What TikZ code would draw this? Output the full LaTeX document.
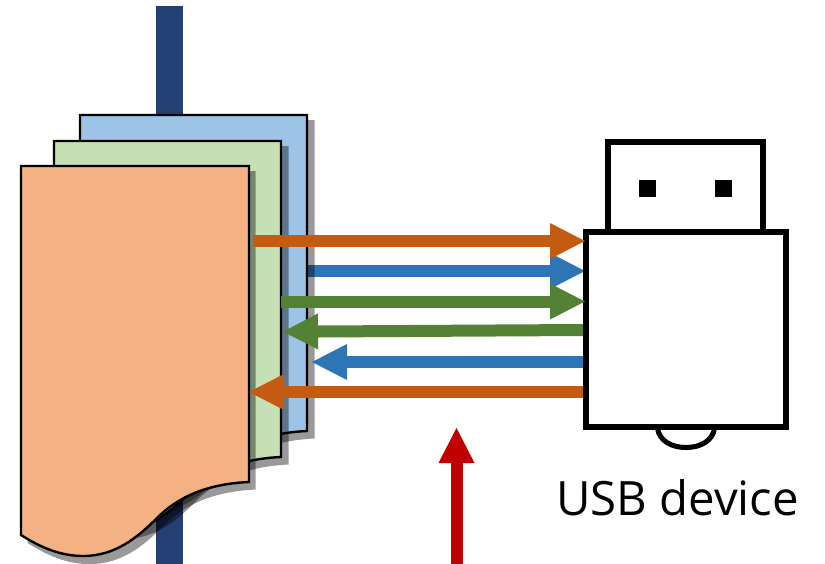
\documentclass[tikz,border=0pt]{standalone}
\usepackage{fontspec}
\setmainfont{Open Sans}
\usetikzlibrary{arrows.meta}
\definecolor{barc}{HTML}{243F71}
\definecolor{ora}{HTML}{C55A11}
\definecolor{blu}{HTML}{2E75B6}
\definecolor{gre}{HTML}{548235}
\definecolor{redc}{HTML}{C00000}
\definecolor{sheetb}{HTML}{9DC3E6}
\definecolor{sheetg}{HTML}{C5E0B4}
\definecolor{sheeto}{HTML}{F4B183}
\newcommand{\wavesheet}{(0,0) -- (228,0) -- (228,316) .. controls (184,318) and (156,332) .. (136,352) .. controls (116,372) and (94,390) .. (62,390) .. controls (39,390) and (19,381) .. (0,369) -- cycle}
\tikzset{
  x=0.75pt,y=-0.75pt,
  sheet/.style={draw=black,line width=1.8pt,line join=miter},
  shadow/.style={fill=black,fill opacity=.4,draw=none},
  flow/.style={line width=9pt,-{Triangle[length=26.25pt,width=27pt,line width=0pt,sep=0pt]}},
  usbline/.style={draw=black,fill=white,line width=4.3pt,line join=miter},
  usbbox/.style={usbline,rectangle,inner sep=0pt,outer sep=0pt,minimum width=150pt,minimum height=146.25pt},
  pin/.style={fill=black,draw=none,rectangle,inner sep=0pt,minimum width=12.75pt,minimum height=12.75pt},
}
\begin{document}
\begin{tikzpicture}
\useasboundingbox (0,0) rectangle (825,564);
% coordinates for connector ends
\coordinate (oOutS) at (253,241);   \coordinate (oOutE) at (585,241);
\coordinate (bOutS) at (307,271);   \coordinate (bOutE) at (585,271);
\coordinate (gOutS) at (281,301.5); \coordinate (gOutE) at (585,301.5);
\coordinate (gInS) at (583,330);    \coordinate (gInE) at (283,331.7);
\coordinate (bInS) at (583,362);    \coordinate (bInE) at (312,362);
\coordinate (oInS) at (583,392);    \coordinate (oInE) at (249,392);
\coordinate (redS) at (456.5,564);  \coordinate (redE) at (456.5,428);
\coordinate (barT) at (169.5,6);    \coordinate (barB) at (169.5,564);
% vertical bar
\draw[barc,line width=20pt] (barT) -- (barB);
% blue outgoing arrow lies beneath the sheet shadows
\draw[flow,blu] (bOutS) -- (bOutE);
% sheets
\fill[shadow,shift={(86.5,120)},yscale=1.008] \wavesheet;
\draw[sheet,fill=sheetb,shift={(80,115)},xscale=.9956] \wavesheet;
\fill[shadow,shift={(60.5,146)},yscale=1.008] \wavesheet;
\draw[sheet,fill=sheetg,shift={(54,141)},xscale=.9956] \wavesheet;
\fill[shadow,shift={(27.5,171)},yscale=1.008] \wavesheet;
\draw[sheet,fill=sheeto,shift={(21,166)}] \wavesheet;
% USB device
\draw[line width=3.8pt] (657.5,428) .. controls (659,441) and (672,447.5) .. (686,447.5) .. controls (700,447.5) and (713,441) .. (714.5,428);
\draw[usbline] (608,232) -- (608,142) -- (763,142) -- (763,232);
\node[pin] (pinA) at (647.5,188.5) {};
\node[pin] (pinB) at (723.5,188.5) {};
\node[usbbox] (dev) at (686,329.5) {};
\node[anchor=base,font=\fontsize{35.5pt}{36pt}\selectfont,inner sep=0pt] (lab) at (677.5,515) {USB device};
% arrows
\draw[flow,ora] (oOutS) -- (oOutE);
\draw[flow,gre] (gOutS) -- (gOutE);
\draw[flow,gre] (gInS) -- (gInE);
\draw[flow,blu] (bInS) -- (bInE);
\draw[flow,ora] (oInS) -- (oInE);
\draw[flow,redc] (redS) -- (redE);
\end{tikzpicture}
\end{document}
